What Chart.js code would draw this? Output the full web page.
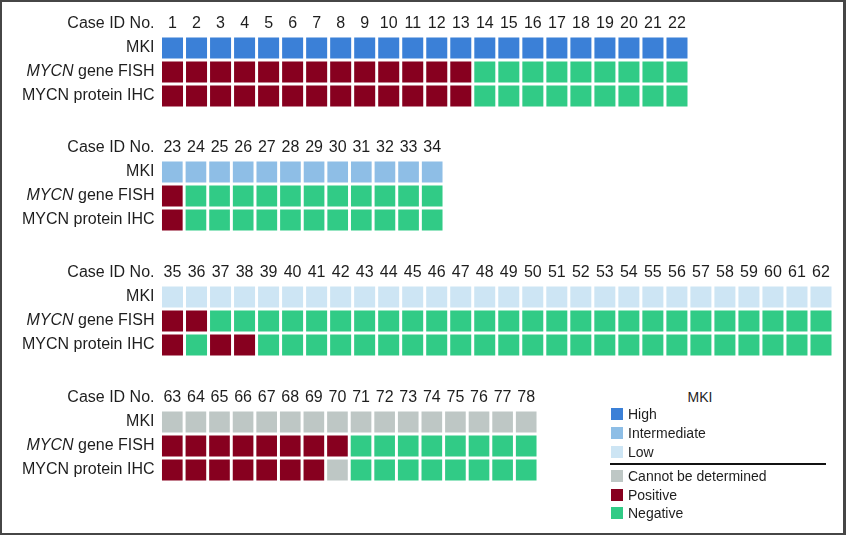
<!DOCTYPE html>
<html>
<head>
<meta charset="utf-8">
<script src="https://cdn.jsdelivr.net/npm/chart.js@4.4.0/dist/chart.umd.min.js"></script>
<style>
  body { margin: 0; background: #fff; }
  #page { position: relative; width: 846px; height: 535px; overflow: hidden; font-family: "Liberation Sans", Arial, sans-serif; color: #1e1e1e; }
  #frame { position: absolute; left: 0; top: 0; width: 846px; height: 535px; box-sizing: border-box; border: 2px solid #464646; border-right-width: 3px; }
  canvas { position: absolute; left: 0; }
  .lg { position: absolute; font-size: 14px; line-height: 16px; white-space: nowrap; }
  .sw { position: absolute; width: 12px; height: 12px; }
</style>
</head>
<body>
<div id="page">
  <canvas id="p1"></canvas>
  <canvas id="p2"></canvas>
  <canvas id="p3"></canvas>
  <canvas id="p4"></canvas>
  <div id="legend"></div>
  <div id="frame"></div>
</div>
<script>
// row labels
rowLabels = ['Case ID No.', 'MKI', 'gene FISH', 'MYCN protein IHC'];

// H = high, I = intermediate, L = low, U = cannot be determined, P = positive, N = negative
ids1  = [1,2,3,4,5,6,7,8,9,10,11,12,13,14,15,16,17,18,19,20,21,22];
mki1  = ['H','H','H','H','H','H','H','H','H','H','H','H','H','H','H','H','H','H','H','H','H','H'];
fish1 = ['P','P','P','P','P','P','P','P','P','P','P','P','P','N','N','N','N','N','N','N','N','N'];
ihc1  = ['P','P','P','P','P','P','P','P','P','P','P','P','P','N','N','N','N','N','N','N','N','N'];

ids2  = [23,24,25,26,27,28,29,30,31,32,33,34];
mki2  = ['I','I','I','I','I','I','I','I','I','I','I','I'];
fish2 = ['P','N','N','N','N','N','N','N','N','N','N','N'];
ihc2  = ['P','N','N','N','N','N','N','N','N','N','N','N'];

ids3  = [35,36,37,38,39,40,41,42,43,44,45,46,47,48,49,50,51,52,53,54,55,56,57,58,59,60,61,62];
mki3  = ['L','L','L','L','L','L','L','L','L','L','L','L','L','L','L','L','L','L','L','L','L','L','L','L','L','L','L','L'];
fish3 = ['P','P','N','N','N','N','N','N','N','N','N','N','N','N','N','N','N','N','N','N','N','N','N','N','N','N','N','N'];
ihc3  = ['P','N','P','P','N','N','N','N','N','N','N','N','N','N','N','N','N','N','N','N','N','N','N','N','N','N','N','N'];

ids4  = [63,64,65,66,67,68,69,70,71,72,73,74,75,76,77,78];
mki4  = ['U','U','U','U','U','U','U','U','U','U','U','U','U','U','U','U'];
fish4 = ['P','P','P','P','P','P','P','P','N','N','N','N','N','N','N','N'];
ihc4  = ['P','P','P','P','P','P','P','U','N','N','N','N','N','N','N','N'];

legendMki = ['High', 'Intermediate', 'Low'];
legendMycn = ['Cannot be determined', 'Positive', 'Negative'];

colors = {
  H: '#3b80d7', I: '#8ebee6', L: '#cde5f4',
  U: '#bec7c5', P: '#87001f', N: '#31cb86'
};
legendColors = {
  'High': colors.H, 'Intermediate': colors.I, 'Low': colors.L,
  'Cannot be determined': colors.U, 'Positive': colors.P, 'Negative': colors.N
};

FONT = '"Liberation Sans", Arial, sans-serif';
TEXT = '#1e1e1e';
AXIS_W = 160.5;
HALF = 0.44;

// italic MYCN in front of "gene FISH"
var italicPlugin = {
  id: 'italicMycn',
  afterDraw: function(chart) {
    var ys = chart.scales.y;
    var ctx = chart.ctx;
    ctx.save();
    ctx.font = '16px ' + FONT;
    var w = ctx.measureText(' gene FISH').width;
    ctx.font = 'italic 16px ' + FONT;
    ctx.fillStyle = TEXT;
    ctx.textAlign = 'right';
    ctx.textBaseline = 'middle';
    ctx.fillText('MYCN', ys.right - 6 - w, ys.getPixelForValue(2));
    ctx.restore();
  }
};

function makePanel(canvasId, ids, mki, fish, ihc, top, right) {
  var cv = document.getElementById(canvasId);
  cv.width = right;
  cv.height = 96;
  cv.style.top = top + 'px';
  var rows = [mki, fish, ihc];
  var datasets = rows.map(function(codes, r) {
    return {
      data: codes.map(function() { return [r + 1 - HALF, r + 1 + HALF]; }),
      backgroundColor: codes.map(function(c) { return colors[c]; }),
      borderWidth: 0,
      grouped: false,
      barPercentage: 0.875,
      categoryPercentage: 1
    };
  });
  new Chart(cv.getContext('2d'), {
    type: 'bar',
    data: {
      labels: ids.map(String),
      datasets: datasets
    },
    options: {
      responsive: false,
      animation: false,
      layout: { padding: 0 },
      plugins: { legend: { display: false }, tooltip: { enabled: false } },
      scales: {
        x: {
          position: { y: 0 },
          grid: { display: false, drawTicks: false },
          border: { display: false },
          afterFit: function(scale) {
            scale.height = 0;
            scale.paddingLeft = 0; scale.paddingRight = 0;
            scale.paddingTop = 0; scale.paddingBottom = 0;
          },
          ticks: {
            autoSkip: false,
            maxRotation: 0,
            padding: -9.6,
            color: TEXT,
            font: { size: 16, family: FONT }
          }
        },
        y: {
          reverse: true,
          min: -0.5,
          max: 3.5,
          grid: { display: false, drawTicks: false },
          border: { display: false },
          afterBuildTicks: function(scale) {
            scale.ticks = [0, 1, 2, 3].map(function(v) { return { value: v }; });
          },
          afterFit: function(scale) {
            scale.width = AXIS_W;
            scale.paddingTop = 0; scale.paddingBottom = 0;
          },
          ticks: {
            padding: 6,
            color: TEXT,
            font: { size: 16, family: FONT },
            callback: function(v) { return rowLabels[v]; }
          }
        }
      }
    },
    plugins: [italicPlugin]
  });
}

makePanel('p1', ids1, mki1, fish1, ihc1, 12, 689);
makePanel('p2', ids2, mki2, fish2, ihc2, 136, 444);
makePanel('p3', ids3, mki3, fish3, ihc3, 261, 833);
makePanel('p4', ids4, mki4, fish4, ihc4, 386, 538);

// legend
var lg = document.getElementById('legend');
var html = '<div class="lg" style="left:700px;top:389px;transform:translateX(-50%);">MKI</div>';
var ys1 = [414, 433, 452];
var ys2 = [476, 494.5, 513];
function item(name, y) {
  return '<div class="sw" style="left:611px;top:' + (y - 6) + 'px;background:' + legendColors[name] + '"></div>' +
         '<div class="lg" style="left:628px;top:' + (y - 8) + 'px;">' + name + '</div>';
}
legendMki.forEach(function(n, i) { html += item(n, ys1[i]); });
legendMycn.forEach(function(n, i) { html += item(n, ys2[i]); });
html += '<div style="position:absolute;left:610px;top:463px;width:216px;height:2px;background:#111;"></div>';
lg.innerHTML = html;
</script>
</body>
</html>
